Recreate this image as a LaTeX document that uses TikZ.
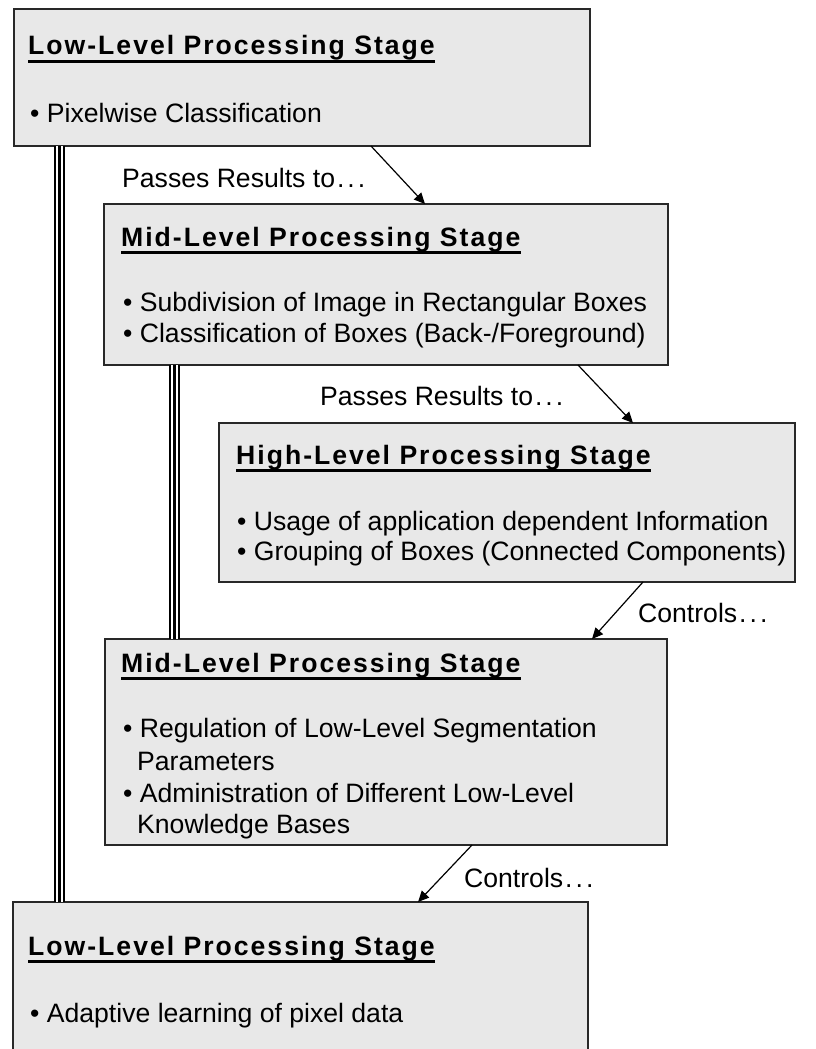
\documentclass[tikz,border=0pt]{standalone}
\usepackage{fontspec}
\setmainfont{Liberation Sans}
\newfontfamily\titlefont{Liberation Sans Bold}[LetterSpace=7.5]
\usetikzlibrary{arrows.meta}
\definecolor{boxfill}{RGB}{232,232,232}
\definecolor{boxline}{RGB}{40,40,40}
\newcommand{\mydots}{\kern2pt.\kern3pt.\kern3pt.}
\begin{document}
\begin{tikzpicture}[x=1pt,y=-1pt,
  box/.style={draw=boxline, fill=boxfill, line width=1.4pt, rectangle, inner sep=0pt, outer sep=0pt, anchor=north west},
  ttl/.style={anchor=base west, inner sep=0pt, font=\titlefont\fontsize{26.6}{32}\selectfont},
  txt/.style={anchor=base west, inner sep=0pt, font=\fontsize{26.6}{32}\selectfont},
  ul/.style={line width=3pt},
  arr/.style={-{Triangle[length=11pt,width=10pt]}, line width=1.2pt},
  triple/.style={line width=11pt, draw=black, postaction={draw=white, line width=7pt}, postaction={draw=black, line width=3pt}}]
\clip (0,0) rectangle (815,1049);
\useasboundingbox (0,0) rectangle (815,1049);
\fill[white] (0,0) rectangle (815,1049);

% boxes
\node[box, minimum width=576pt, minimum height=137pt] (b1) at (14,9) {};
\node[box, minimum width=564pt, minimum height=161pt] (b2) at (104,204) {};
\node[box, minimum width=576pt, minimum height=159pt] (b3) at (219,423) {};
\node[box, minimum width=562pt, minimum height=206pt] (b4) at (105,639) {};
\node[box, minimum width=575pt, minimum height=170pt] (b5) at (13,902) {};

% triple lines
\draw[triple] ([xshift=45.5pt]b1.south west) -- ([xshift=46.5pt]b5.north west);
\draw[triple] ([xshift=70pt]b2.south west) -- ([xshift=69pt]b4.north west);

% arrows
\draw[arr] ([xshift=357pt]b1.south west) -- ([xshift=321pt]b2.north west);
\draw[arr] ([xshift=474pt]b2.south west) -- ([xshift=414pt]b3.north west);
\draw[arr] ([xshift=424pt]b3.south west) -- ([xshift=487pt]b4.north west);
\draw[arr] ([xshift=367pt]b4.south west) -- ([xshift=405pt]b5.north west);

% labels
\node[txt] (l1) at (122,187) {Passes Results to\mydots};
\node[txt] (l2) at (320,405) {Passes Results to\mydots};
\node[txt] (l3) at (638,622) {Controls\mydots};
\node[txt] (l4) at (464,887) {Controls\mydots};

% box 1
\node[ttl] (t1) at (28,55) {Low-Level Processing Stage};
\draw[ul] ([yshift=-6.5pt]t1.base west) -- ([yshift=-6.5pt]t1.base east);
\node[txt] (p1) at (30,122) {• Pixelwise Classification};

% box 2
\node[ttl] (t2) at (121,246) {Mid-Level Processing Stage};
\draw[ul] ([yshift=-6.5pt]t2.base west) -- ([yshift=-6.5pt]t2.base east);
\node[txt] (p2a) at (123,311) {• Subdivision of Image in Rectangular Boxes};
\node[txt] (p2b) at (123,342) {• Classification of Boxes (Back-/Foreground)};

% box 3
\node[ttl] (t3) at (236,464) {High-Level Processing Stage};
\draw[ul] ([yshift=-6.5pt]t3.base west) -- ([yshift=-6.5pt]t3.base east);
\node[txt] (p3a) at (237,530) {• Usage of application dependent Information};
\node[txt] (p3b) at (237,560) {• Grouping of Boxes (Connected Components)};

% box 4
\node[ttl] (t4) at (121,672) {Mid-Level Processing Stage};
\draw[ul] ([yshift=-6.5pt]t4.base west) -- ([yshift=-6.5pt]t4.base east);
\node[txt] (p4a) at (123,737) {• Regulation of Low-Level Segmentation};
\node[txt] (p4b) at (137,770) {Parameters};
\node[txt] (p4c) at (123,802) {• Administration of Different Low-Level};
\node[txt] (p4d) at (137,833) {Knowledge Bases};

% box 5
\node[ttl] (t5) at (28,955) {Low-Level Processing Stage};
\draw[ul] ([yshift=-6.5pt]t5.base west) -- ([yshift=-6.5pt]t5.base east);
\node[txt] (p5) at (30,1022) {• Adaptive learning of pixel data};
\end{tikzpicture}
\end{document}
